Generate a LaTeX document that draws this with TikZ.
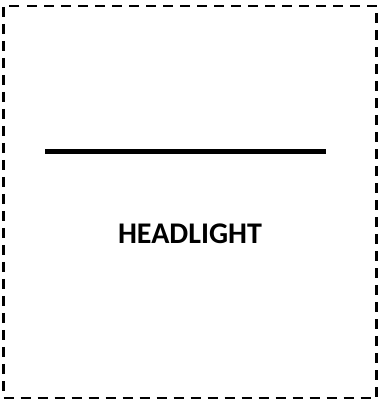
\documentclass[tikz,border=0pt]{standalone}
\usepackage{fontspec}
\setmainfont{Carlito}
\usetikzlibrary{positioning}

\begin{document}
\begin{tikzpicture}[x=1pt,y=1pt,
  frame/.style={draw=black, line width=2.5pt, dash pattern=on 10pt off 7pt},
  label/.style={font=\fontsize{30}{33}\selectfont\bfseries, inner sep=0pt}]
  \useasboundingbox (0,0) rectangle (379,402);
  \node[frame, minimum width=373pt, minimum height=392pt, inner sep=0pt]
    (box) at (190,200) {};
  \coordinate (lampL) at (45,250);
  \coordinate (lampR) at (326,250);
  \draw[line width=5pt] (lampL) -- (lampR);
  \node[label] (name) at (190,168) {HEADLIGHT};
\end{tikzpicture}
\end{document}
